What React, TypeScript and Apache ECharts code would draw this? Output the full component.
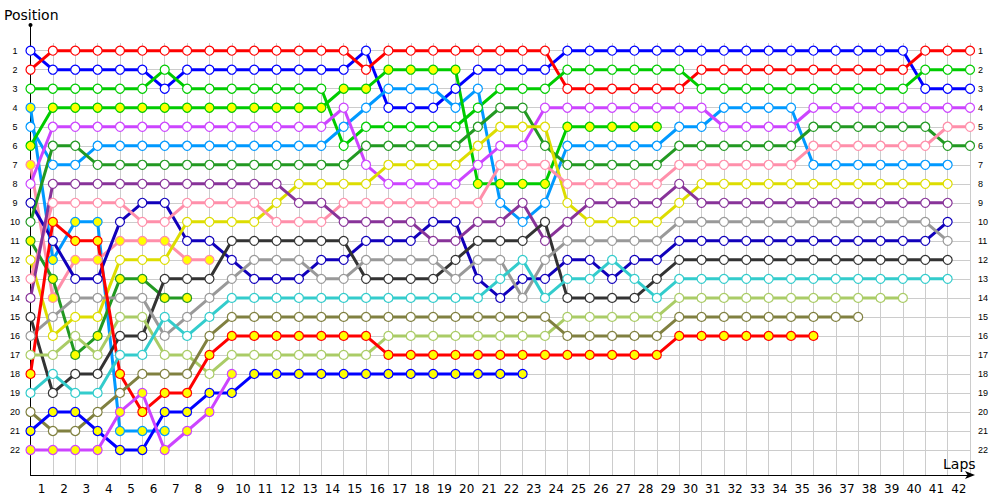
import React, { useEffect, useRef } from "react";
import * as echarts from "echarts";

// Lap labels (x axis, centred between lap columns)
const lapLabels = ["1","2","3","4","5","6","7","8","9","10","11","12","13","14","15","16","17","18","19","20","21","22","23","24","25","26","27","28","29","30","31","32","33","34","35","36","37","38","39","40","41","42"];
// Position range for tick labels (y axis): first and last position
const firstPosition = 1;
const lastPosition = 22;

// Position of each driver after each lap (index 0 = grid)
const drvA = [1,2,2,2,2,2,3,2,2,2,2,2,2,2,2,1,4,4,4,3,2,2,2,2,1,1,1,1,1,1,1,1,1,1,1,1,1,1,1,1,3,3,3];
const drvB = [2,1,1,1,1,1,1,1,1,1,1,1,1,1,1,2,1,1,1,1,1,1,1,1,3,3,3,3,3,3,2,2,2,2,2,2,2,2,2,2,1,1,1];
const drvC = [3,3,3,3,3,3,2,3,3,3,3,3,3,3,6,5,5,5,5,5,4,3,3,3,2,2,2,2,2,2,3,3,3,3,3,3,3,3,3,3,2,2,2];
const drvD = [4,12,10,10,21,21,21];
const drvE = [5,7,7,6,6,6,6,6,6,6,6,6,6,6,5,4,3,3,3,4,3,9,10,9,6,6,6,6,6,5,5,4,4,4,4,7,7,7,7,7,7,7];
const drvF = [6,4,4,4,4,4,4,4,4,4,4,4,4,4,3,3,2,2,2,2,8,8,8,8,5,5,5,5,5];
const drvG = [7,14,12,12,11,11,11,12,12];
const drvH = [8,5,5,5,5,5,5,5,5,5,5,5,5,5,4,7,8,8,8,8,7,6,6,4,4,4,4,4,4,4,4,5,5,5,5,4,4,4,4,4,4,4,4];
const drvI = [9,11,13,13,10,9,9,11,11,12,13,13,13,12,12,11,11,11,10,10,13,14,13,13,12,12,13,12,12,11,11,11,11,11,11,11,11,11,11,11,11,10];
const drvJ = [10,6,6,7,7,7,7,7,7,7,7,7,7,7,7,6,6,6,6,6,5,4,4,6,7,7,7,7,7,6,6,6,6,6,6,5,5,5,5,5,5,6,6];
const drvK = [11,13,17,16,13,13,14,14];
const drvL = [12,16,15,15,12,12,12,10,10,10,10,9,8,8,8,8,7,7,7,7,6,5,5,5,9,10,10,10,10,9,8,8,8,8,8,8,8,8,8,8,8,8];
const drvM = [13,9,9,9,9,10,10,9,9,9,9,10,10,10,9,9,9,9,9,9,9,7,7,7,8,8,8,8,8,7,7,7,7,7,7,6,6,6,6,6,6,5,5];
const drvN = [14,8,8,8,8,8,8,8,8,8,8,8,9,9,10,10,10,10,11,11,10,10,9,11,10,9,9,9,9,8,9,9,9,9,9,9,9,9,9,9,9,9];
const drvO = [15,19,18,18,16,16,13,13,13,11,11,11,11,11,11,13,13,13,13,12,11,11,11,10,14,14,14,14,13,12,12,12,12,12,12,12,12,12,12,12,12,12];
const drvP = [16,15,14,14,14,14,16,15,14,13,12,12,12,13,13,12,12,12,12,13,12,12,14,12,11,11,11,11,11,10,10,10,10,10,10,10,10,10,10,10,10,11];
const drvQ = [17,17,16,17,15,15,17,17,18,17,17,17,17,17,17,17,16,16,16,16,16,16,16,16,15,15,15,15,15,14,14,14,14,14,14,14,14,14,14,14];
const drvR = [18,10,11,11,18,20,19,19,17,16,16,16,16,16,16,16,17,17,17,17,17,17,17,17,17,17,17,17,17,16,16,16,16,16,16,16];
const drvS = [19,18,19,19,17,17,15,16,15,14,14,14,14,14,14,14,14,14,14,14,14,13,12,14,13,13,12,13,14,13,13,13,13,13,13,13,13,13,13,13,13,13];
const drvT = [20,21,21,20,19,18,18,18,16,15,15,15,15,15,15,15,15,15,15,15,15,15,15,15,16,16,16,16,16,15,15,15,15,15,15,15,15,15];
const drvU = [21,20,20,21,22,22,20,20,19,19,18,18,18,18,18,18,18,18,18,18,18,18,18];
const drvV = [22,22,22,22,20,19,22,21,20,18];

const driverNames = ["A","B","C","D","E","F","G","H","I","J","K","L","M","N","O","P","Q","R","S","T","U","V"];
const driverData = [drvA,drvB,drvC,drvD,drvE,drvF,drvG,drvH,drvI,drvJ,drvK,drvL,drvM,drvN,drvO,drvP,drvQ,drvR,drvS,drvT,drvU,drvV];

// styles (kept apart from data)
const driverColors = [
  "#0000ff","#ff0000","#00cc00","#0099ff","#0099ff","#00cc00","#ff8faa","#cc44ff",
  "#1100bb","#229922","#229922","#dddd00","#ff8faa","#883399","#333333","#999999",
  "#aacc66","#ff0000","#33cccc","#808040","#0000ff","#cc44ff"
];
const driverFills = [
  "#ffffff","#ffffff","#ffffff","#ffff00","#ffffff","#ffff00","#ffff00","#ffffff",
  "#ffffff","#ffffff","#ffff00","#ffffff","#ffffff","#ffffff","#ffffff","#ffffff",
  "#ffffff","#ffff00","#ffffff","#ffffff","#ffff00","#ffff00"
];

const FONT = "'DejaVu Sans', Verdana, sans-serif";
const SMALL_FONT = "'Liberation Sans', Arial, sans-serif";

export default function App() {
  const ref = useRef<HTMLDivElement>(null);
  useEffect(() => {
    if (!ref.current) return;
    const chart = echarts.init(ref.current, undefined, { renderer: "svg" });
    // data grid spans slightly beyond positions 1..22
    const yMin = 0.595;
    const yMax = 23.315;
    const series = driverData.map((arr, i) => ({
      name: driverNames[i],
      type: "line",
      xAxisIndex: 0,
      yAxisIndex: 0,
      data: arr.map((p, lap) => [lap, p]),
      symbol: "circle",
      symbolSize: 9,
      showAllSymbol: true,
      clip: false,
      lineStyle: { color: driverColors[i], width: 3 },
      itemStyle: { color: driverFills[i], borderColor: driverColors[i], borderWidth: 1.2 },
      emphasis: { disabled: true },
      z: 3,
    }));
    chart.setOption({
      animation: false,
      backgroundColor: "#ffffff",
      grid: [
        { left: 30.5, right: 30, top: 43, bottom: 25, containLabel: false },
        // grid spanning exactly positions 1..22, for row gridlines and labels
        { left: 30.5, right: 30, top: 50.7, bottom: 50, containLabel: false },
      ],
      xAxis: [
        {
          type: "value",
          gridIndex: 0,
          min: 0,
          max: 42,
          interval: 1,
          axisLine: { show: false },
          axisTick: { show: false },
          axisLabel: { show: false },
          splitLine: { show: true, lineStyle: { color: "#cccccc", width: 1 } },
        },
        {
          type: "category",
          gridIndex: 0,
          data: lapLabels,
          boundaryGap: true,
          position: "bottom",
          axisLine: {
            show: true,
            onZero: false,
            lineStyle: { color: "#000000", width: 1 },
            symbol: ["none", "arrow"],
            symbolSize: [6, 10],
            symbolOffset: [0, 5],
          },
          axisTick: { show: false },
          axisLabel: { interval: 0, color: "#000000", fontSize: 12, margin: 8, fontFamily: FONT },
          splitLine: { show: false },
        },
        {
          type: "value",
          gridIndex: 1,
          min: 0,
          max: 42,
          show: false,
        },
      ],
      yAxis: [
        {
          type: "value",
          gridIndex: 0,
          inverse: true,
          min: yMin,
          max: yMax,
          axisLine: { show: true, onZero: false, lineStyle: { color: "#000000", width: 1 } },
          axisTick: { show: false },
          axisLabel: { show: false },
          splitLine: { show: false },
        },
        {
          type: "value",
          gridIndex: 1,
          inverse: true,
          min: firstPosition,
          max: lastPosition,
          interval: 1,
          axisLine: { show: false },
          axisTick: { show: false },
          axisLabel: { color: "#000000", fontSize: 9, align: "center", margin: 15.5, fontFamily: SMALL_FONT },
          splitLine: { show: true, lineStyle: { color: "#cccccc", width: 1 } },
        },
        {
          type: "value",
          gridIndex: 1,
          inverse: true,
          position: "right",
          min: firstPosition,
          max: lastPosition,
          interval: 1,
          axisLine: { show: false },
          axisTick: { show: false },
          axisLabel: { color: "#000000", fontSize: 9, align: "left", margin: 8, fontFamily: SMALL_FONT },
          splitLine: { show: false },
        },
      ],
      series,
      graphic: [
        { type: "line", shape: { x1: 30.5, y1: 25, x2: 30.5, y2: 43 }, style: { stroke: "#000000", lineWidth: 1 }, z: 10 },
        { type: "circle", shape: { cx: 30.5, cy: 25, r: 2 }, style: { fill: "#000000" }, z: 10 },
        { type: "text", x: 4, y: 15, style: { text: "Position", fontSize: 14, fontFamily: FONT, fill: "#000000", verticalAlign: "middle", align: "left" }, z: 10 },
        { type: "text", x: 943, y: 464, style: { text: "Laps", fontSize: 14, fontFamily: FONT, fill: "#000000", verticalAlign: "middle", align: "left" }, z: 10 },
      ],
    });
    return () => chart.dispose();
  }, []);
  return (
    <div
      ref={ref}
      style={{ position: "fixed", left: 0, top: 0, width: 1000, height: 500, background: "#ffffff" }}
    />
  );
}
